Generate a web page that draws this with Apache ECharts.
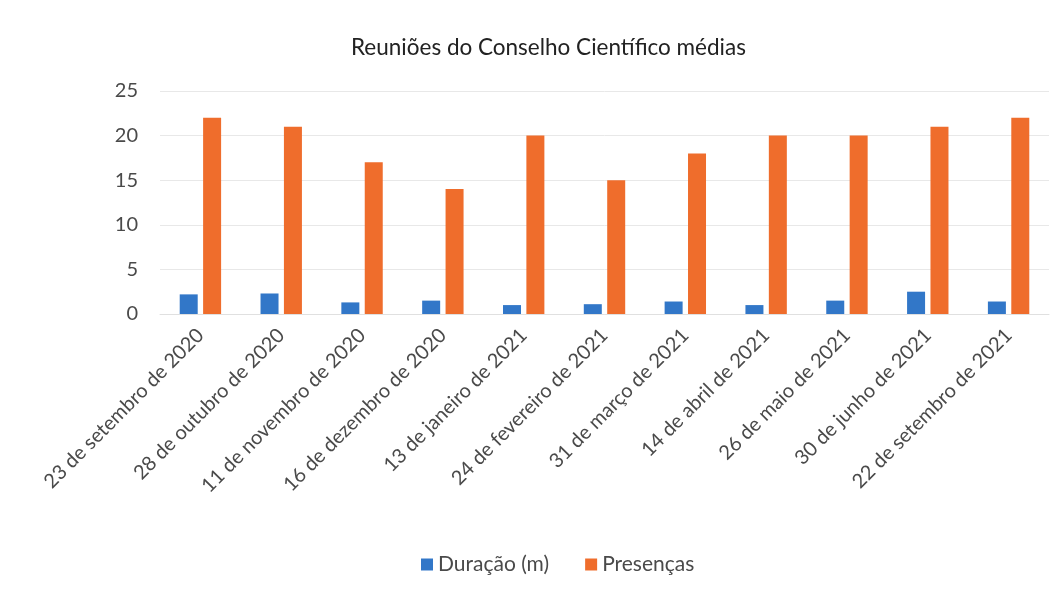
<!DOCTYPE html>
<html>
<head>
<meta charset="utf-8">
<script src="https://cdn.jsdelivr.net/npm/echarts@6/dist/echarts.min.js"></script>
<style>
  html, body { margin: 0; padding: 0; background: #fff; }
  #chart { width: 1062px; height: 597px; }
</style>
</head>
<body>
<div id="chart"></div>
<script>
// dados
const reunioes = ['23 de setembro de 2020', '28 de outubro de 2020', '11 de novembro de 2020',
  '16 de dezembro de 2020', '13 de janeiro de 2021', '24 de fevereiro de 2021',
  '31 de março de 2021', '14 de abril de 2021', '26 de maio de 2021',
  '30 de junho de 2021', '22 de setembro de 2021']
const duracao = [2.2, 2.3, 1.3, 1.5, 1.0, 1.1, 1.4, 1.0, 1.5, 2.5, 1.4]
const presencas = [22, 21, 17, 14, 20, 15, 18, 20, 20, 21, 22]

const fontName = 'Lato'
const textColor = '#4a4a4a'

const chart = echarts.init(document.getElementById('chart'))
chart.setOption({
  animation: false,
  backgroundColor: '#fff',
  title: {
    text: 'Reuniões do Conselho Científico médias',
    left: 346,
    top: 31,
    textStyle: { fontFamily: fontName, fontSize: 22.5, fontWeight: 'normal', color: '#222' }
  },
  legend: {
    bottom: 17,
    left: 416,
    itemWidth: 12,
    itemHeight: 12,
    itemGap: 36,
    icon: 'rect',
    textStyle: { fontFamily: fontName, fontSize: 21, color: textColor },
    data: ['Duração (m)', 'Presenças']
  },
  grid: { left: 160, right: 13, top: 91, bottom: 283 },
  xAxis: {
    type: 'category',
    data: reunioes,
    axisTick: { show: false },
    axisLine: { lineStyle: { color: '#e0e0e0' } },
    axisLabel: {
      rotate: 45,
      interval: 0,
      margin: 18,
      fontFamily: fontName,
      fontSize: 20,
      color: textColor
    }
  },
  yAxis: {
    type: 'value',
    min: 0,
    max: 25,
    interval: 5,
    axisLine: { show: false },
    axisTick: { show: false },
    splitLine: { lineStyle: { color: '#e8e8e8' } },
    axisLabel: { fontFamily: fontName, fontSize: 20, color: textColor, margin: 22 }
  },
  series: [
    {
      name: 'Duração (m)',
      type: 'bar',
      data: duracao,
      barWidth: 18,
      barGap: '30%',
      itemStyle: { color: '#3277c8' }
    },
    {
      name: 'Presenças',
      type: 'bar',
      data: presencas,
      barWidth: 18,
      itemStyle: { color: '#ef6d2c' }
    }
  ]
})
</script>
</body>
</html>
